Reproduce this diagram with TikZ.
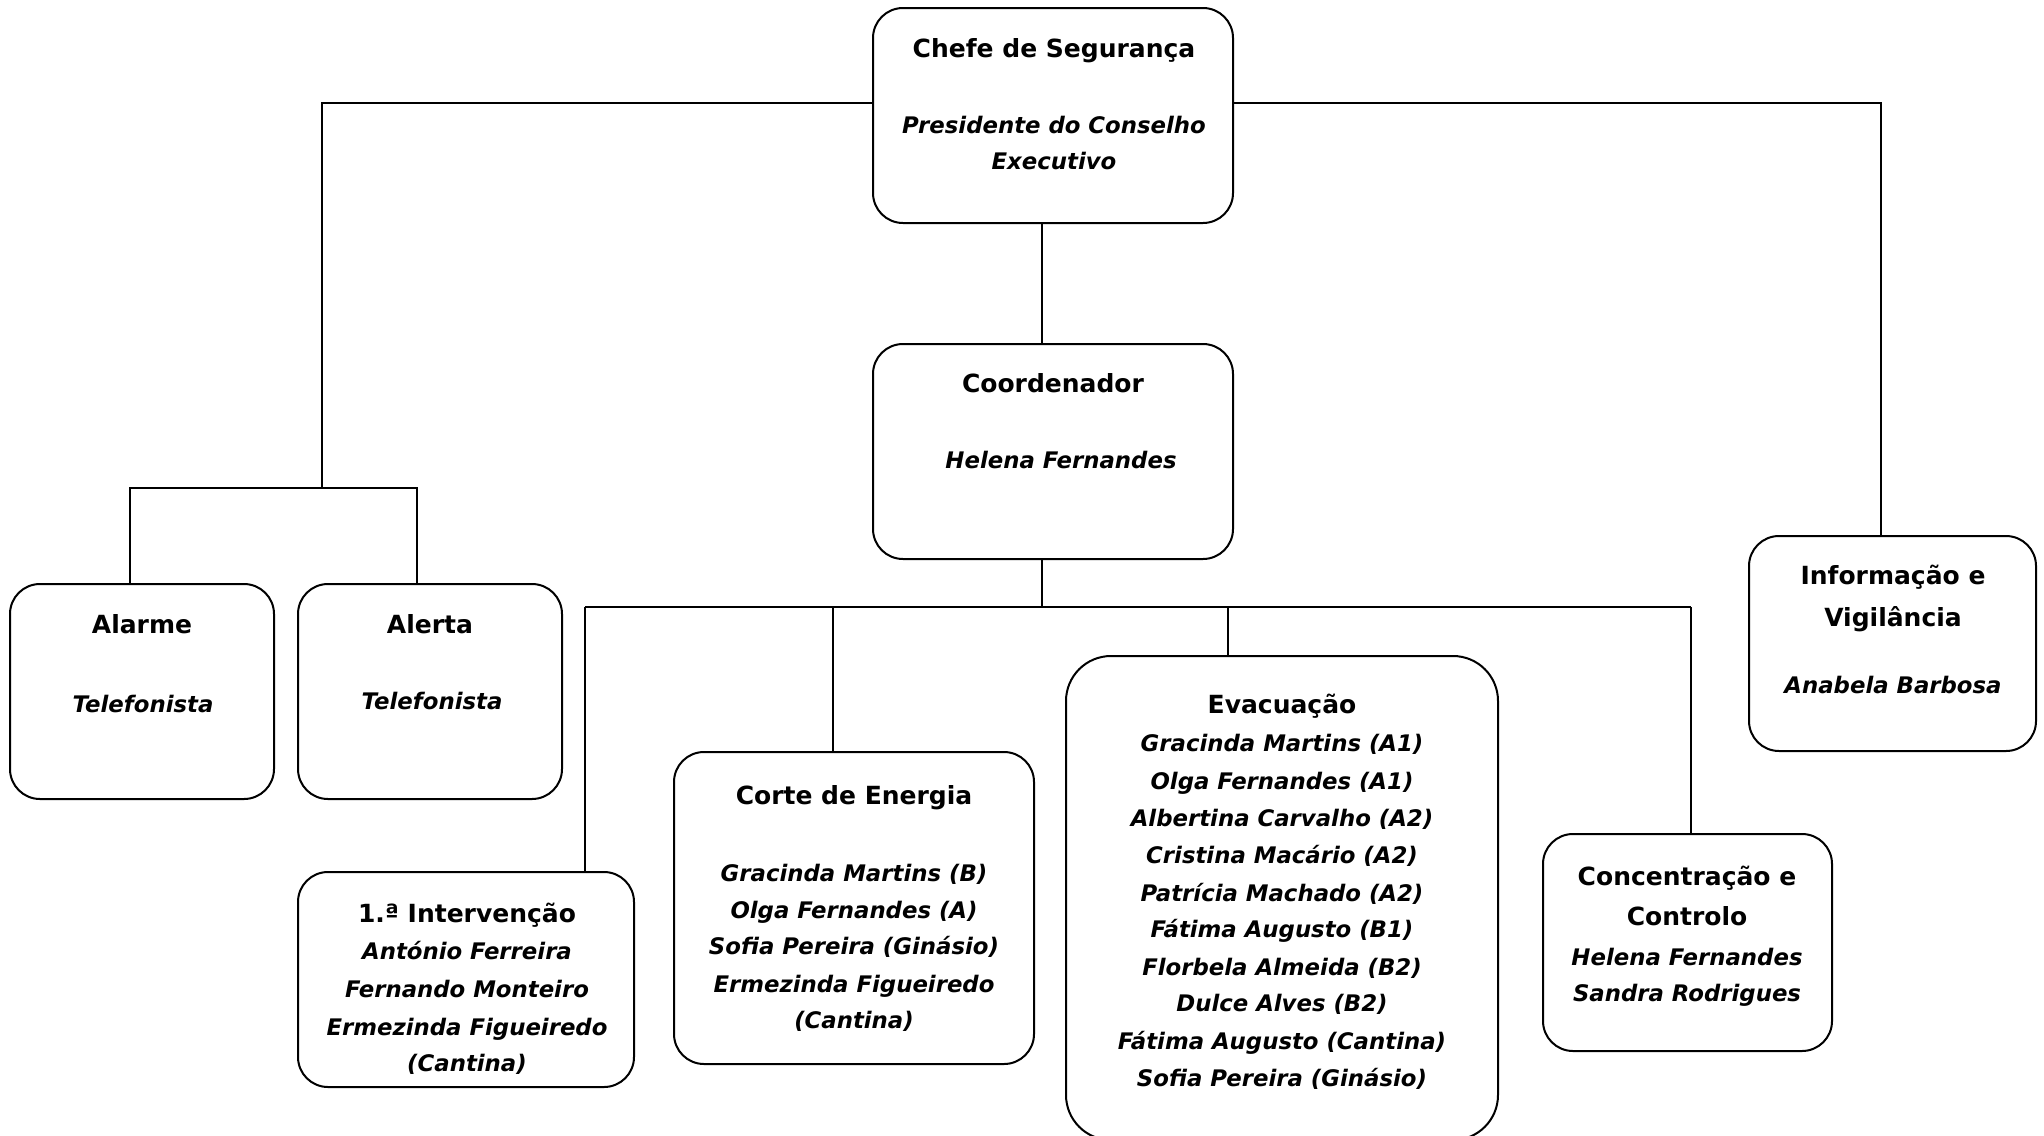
\documentclass[tikz,border=0pt]{standalone}
\usepackage{fontspec}
\setmainfont{DejaVu Sans}
\begin{document}
\begin{tikzpicture}[x=1pt,y=-1pt,
  box/.style={draw,line width=2pt,rounded corners=30pt,inner sep=0pt},
  ttl/.style={font=\fontsize{25}{30}\selectfont\bfseries,inner sep=0pt,text height=0.75em,text depth=0pt},
  nm/.style={font=\fontsize{22.8}{28}\selectfont\bfseries\itshape,inner sep=0pt,text height=0.75em,text depth=0pt},
  conn/.style={line width=1.6pt}]
\useasboundingbox[fill=white] (0,0) rectangle (2044,1135);
% boxes
\node[box,minimum width=360pt,minimum height=215pt] (chefe) at (1053,115.5) {};
\node[box,minimum width=360pt,minimum height=215pt] (coord) at (1053,451.5) {};
\node[box,minimum width=264pt,minimum height=215pt] (alarme) at (142,691.5) {};
\node[box,minimum width=264pt,minimum height=215pt] (alerta) at (430,691.5) {};
\node[box,minimum width=287pt,minimum height=215pt] (info) at (1892.5,643.5) {};
\node[box,minimum width=336pt,minimum height=215pt] (interv) at (466,979.5) {};
\node[box,minimum width=360pt,minimum height=312pt] (corte) at (854,908) {};
\node[box,rounded corners=45pt,minimum width=432pt,minimum height=484pt] (evac) at (1282,898) {};
\node[box,minimum width=289pt,minimum height=217pt] (conc) at (1687.5,942.5) {};
% connectors
\coordinate (vx) at (1042,0);
\draw[conn] (chefe.south -| vx) -- (coord.north -| vx);
\coordinate (lc) at (322,103);
\coordinate (lj) at (322,488);
\draw[conn] (chefe.west |- lc) -- (lc) -- (lj);
\coordinate (al) at (130,488);
\coordinate (ar) at (417,488);
\draw[conn] (alarme.north -| al) -- (al) -- (ar) -- (alerta.north -| ar);
\coordinate (rc) at (1881,103);
\draw[conn] (chefe.east |- rc) -- (rc) -- (info.north -| rc);
\coordinate (hb) at (1042,607);
\draw[conn] (coord.south -| hb) -- (hb);
\coordinate (hl) at (585,607);
\coordinate (hr) at (1691,607);
\coordinate (hc) at (833,607);
\coordinate (he) at (1228,607);
\draw[conn] (hl) -- (hr);
\draw[conn] (hl) -- (interv.north -| hl);
\draw[conn] (hc) -- (corte.north -| hc);
\draw[conn] (he) -- (evac.north -| he);
\draw[conn] (hr) -- (conc.north -| hr);
% texts
\node[ttl] (t1) at (1054,54) {Chefe de Segurança};
\node[nm] (t2) at (1054,130) {Presidente do Conselho};
\node[nm] (t3) at (1054,166) {Executivo};
\node[ttl] (t4) at (1053,389) {Coordenador};
\node[nm] (t5) at (1061,465) {Helena Fernandes};
\node[ttl] (t6) at (142,630) {Alarme};
\node[nm] (t7) at (143,709) {Telefonista};
\node[ttl] (t8) at (430,630) {Alerta};
\node[nm] (t9) at (432,706) {Telefonista};
\node[ttl] (t10) at (1893,581) {Informação e};
\node[ttl] (t11) at (1893,623) {Vigilância};
\node[nm] (t12) at (1893,690) {Anabela Barbosa};
\node[ttl] (t13) at (467,919) {1.ª Intervenção};
\node[nm] (t14) at (467,956) {António Ferreira};
\node[nm] (t15) at (467,994) {Fernando Monteiro};
\node[nm] (t16) at (467,1032) {Ermezinda Figueiredo};
\begin{scope}
\clip (interv.north west) rectangle ([yshift=3pt]interv.south east);
\node[nm] (t17) at (467,1068) {(Cantina)};
\end{scope}
\node[ttl] (t18) at (854,801) {Corte de Energia};
\node[nm] (t19) at (854,878) {Gracinda Martins (B)};
\node[nm] (t20) at (854,915) {Olga Fernandes (A)};
\node[nm] (t21) at (854,951) {Sofia Pereira (Ginásio)};
\node[nm] (t22) at (854,989) {Ermezinda Figueiredo};
\node[nm] (t23) at (854,1025) {(Cantina)};
\node[ttl] (t24) at (1282,710) {Evacuação};
\node[nm] (t25) at (1282,748) {Gracinda Martins (A1)};
\node[nm] (t26) at (1282,786) {Olga Fernandes (A1)};
\node[nm] (t27) at (1282,823) {Albertina Carvalho (A2)};
\node[nm] (t28) at (1282,860) {Cristina Macário (A2)};
\node[nm] (t29) at (1282,898) {Patrícia Machado (A2)};
\node[nm] (t30) at (1282,934) {Fátima Augusto (B1)};
\node[nm] (t31) at (1282,972) {Florbela Almeida (B2)};
\node[nm] (t32) at (1282,1008) {Dulce Alves (B2)};
\node[nm] (t33) at (1282,1046) {Fátima Augusto (Cantina)};
\node[nm] (t34) at (1282,1083) {Sofia Pereira (Ginásio)};
\node[ttl] (t35) at (1687,882) {Concentração e};
\node[ttl] (t36) at (1687,922) {Controlo};
\node[nm] (t37) at (1687,962) {Helena Fernandes};
\node[nm] (t38) at (1687,998) {Sandra Rodrigues};
\end{tikzpicture}
\end{document}
